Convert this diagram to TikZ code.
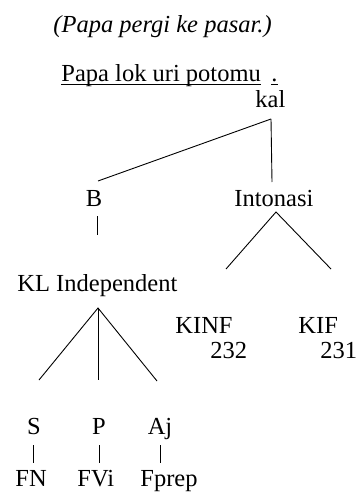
\documentclass[tikz,border=0pt]{standalone}
\usepackage{fontspec}
\setmainfont{Liberation Serif}
\usetikzlibrary{positioning}

\begin{document}
\begin{tikzpicture}[x=1pt, y=-1pt, line width=0.9pt,
  lbl/.style={anchor=base west, inner sep=0pt, font=\fontsize{24.5}{29}\selectfont},
  mid/.style={anchor=base, inner sep=0pt, font=\fontsize{24.5}{29}\selectfont}]
\useasboundingbox (0,0) rectangle (359,494);
%Text
\node[lbl] (judul) at (53,33) {\itshape (Papa pergi ke pasar.)};
\node[lbl] (kalimat) at (61,82) {Papa lok uri potomu};
\node[lbl] (titik) at (271,82) {.};
\node[lbl] (kal) at (255,108) {kal};
\node[mid] (B) at (94,206) {B};
\node[lbl] (into) at (234,206) {Intonasi};
\node[lbl] (klind) at (17,291) {KL Independent};
\node[lbl] (kinf) at (175,333) {KINF};
\node[lbl] (kinfno) at (210,358) {232};
\node[lbl] (kif) at (298,333) {KIF};
\node[lbl] (kifno) at (320,358) {231};
\node[mid] (S) at (34,434) {S};
\node[mid] (P) at (99,434) {P};
\node[mid] (Aj) at (160,434) {Aj};
\node[lbl] (FN) at (15,486) {FN};
\node[lbl] (FVi) at (77,486) {FVi};
\node[lbl] (Fprep) at (140,486) {Fprep};
%Underlines
\draw ([yshift=-2pt]kalimat.base west) -- ([yshift=-2pt]kalimat.base east);
\draw ([yshift=-2pt]titik.base west) -- ([yshift=-2pt]titik.base east);
%Branches
\coordinate (kal-a) at (271,119);
\coordinate (kal-b) at (98,181);
\coordinate (kal-c) at (272,182);
\draw (kal-a) -- (kal-b);
\draw (kal-a) -- (kal-c);
\coordinate (B-a) at (97,216);
\coordinate (B-b) at (97,235);
\draw (B-a) -- (B-b);
\coordinate (into-a) at (276,212);
\coordinate (into-l) at (226,269);
\coordinate (into-r) at (331,269);
\draw (into-l) -- (into-a) -- (into-r);
\coordinate (kl-a) at (98,308);
\coordinate (kl-l) at (39,380);
\coordinate (kl-m) at (98,380);
\coordinate (kl-r) at (157,381);
\draw (kl-l) -- (kl-a) -- (kl-r);
\draw (kl-a) -- (kl-m);
\foreach \x in {33,99,160}
  \draw (\x,445) -- (\x,463);
\end{tikzpicture}
\end{document}
